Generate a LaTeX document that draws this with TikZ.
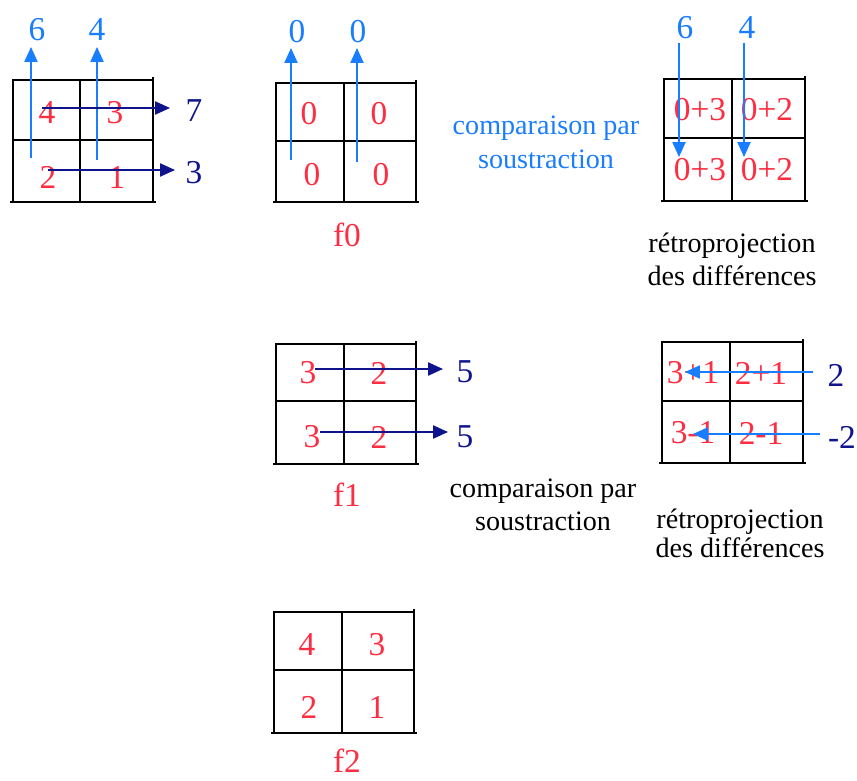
\documentclass[tikz,border=0pt]{standalone}
\usepackage{fontspec}
\setmainfont{Liberation Serif}
\usetikzlibrary{arrows.meta}
\definecolor{numred}{RGB}{255,45,65}
\definecolor{lblue}{RGB}{25,125,255}
\definecolor{dblue}{RGB}{15,20,140}
\tikzset{
  gridline/.style={line width=1.1pt,black},
  num/.style={text=numred,font=\fontsize{19}{21}\selectfont,inner sep=0pt},
  lnum/.style={text=lblue,font=\fontsize{19}{21}\selectfont,inner sep=0pt},
  dnum/.style={text=dblue,font=\fontsize{19}{21}\selectfont,inner sep=0pt},
  btxt/.style={text=lblue,font=\fontsize{16}{18}\selectfont,inner sep=0pt,anchor=base},
  ktxt/.style={text=black,font=\fontsize{16}{18}\selectfont,inner sep=0pt,anchor=base},
  larrow/.style={lblue,line width=0.9pt,-{Triangle[length=8.5pt,width=7.5pt]}},
  darrow/.style={dblue,line width=0.9pt,-{Triangle[length=8.5pt,width=7.5pt]}},
}
\newcommand{\mygrid}[6]{% left top mid-x right bottom mid-y
  \draw[gridline] (#1,#2) rectangle (#4,#5);
  \draw[gridline] (#3,#2) -- (#3,#5);
  \draw[gridline] (#1,#6) -- (#4,#6);
  \draw[gridline] (#4,#2-3) -- (#4,#5);
  \draw[gridline] (#1-3,#5) -- (#4+3,#5);
}
\begin{document}
\begin{tikzpicture}[x=0.02cm,y=-0.02cm]
\clip (0,0) rectangle (857,780);
\useasboundingbox (0,0) rectangle (857,780);

% ---------- grid A (top left) ----------
\mygrid{13}{80}{80}{153}{202}{140}
\node[num] (a11) at (47,113) {4};
\node[num] (a12) at (115,113) {3};
\node[num] (a21) at (48,177) {2};
\node[num] (a22) at (117,177) {1};
\coordinate (au1s) at (31,158);
\coordinate (au2s) at (97,160);
\node[lnum] (a6) at (37,30) {6};
\node[lnum] (a4) at (97,30) {4};
\draw[larrow] (au1s) -- (31,47) coordinate (au1e);
\draw[larrow] (au2s) -- (97,47) coordinate (au2e);
\coordinate (ah1s) at (42,108);
\coordinate (ah1e) at (170,108);
\coordinate (ah2s) at (48,170);
\coordinate (ah2e) at (175,170);
\draw[darrow] (ah1s) -- (ah1e);
\draw[darrow] (ah2s) -- (ah2e);
\node[dnum] (a7) at (194,111) {7};
\node[dnum] (a3) at (194,173) {3};

% ---------- grid f0 ----------
\mygrid{276}{83}{344}{416}{202}{141}
\node[num] (b11) at (309,114) {0};
\node[num] (b12) at (379,114) {0};
\node[num] (b21) at (312,175) {0};
\node[num] (b22) at (381,175) {0};
\coordinate (bu1s) at (291,160);
\coordinate (bu2s) at (357,162);
\draw[larrow] (bu1s) -- (291,48) coordinate (bu1e);
\draw[larrow] (bu2s) -- (357,48) coordinate (bu2e);
\node[lnum] (b0a) at (297,32) {0};
\node[lnum] (b0b) at (358,32) {0};
\node[num] (f0) at (347,235) {f0};

\node[btxt] (cmp1) at (546,135) {comparaison par};
\node[btxt] (cmp2) at (546,169) {soustraction};

% ---------- grid top right ----------
\mygrid{664}{79}{732}{805}{201}{138}
\node[num] (c11) at (700,110) {0+3};
\node[num] (c12) at (767,110) {0+2};
\node[num] (c21) at (700,170) {0+3};
\node[num] (c22) at (767,170) {0+2};
\node[lnum] (c6) at (685,28) {6};
\node[lnum] (c4) at (747,28) {4};
\coordinate (cd1s) at (679,43);
\coordinate (cd2s) at (744,43);
\draw[larrow] (cd1s) -- (679,157) coordinate (cd1e);
\draw[larrow] (cd2s) -- (744,157) coordinate (cd2e);
\node[ktxt] (retro1) at (732,253) {rétroprojection};
\node[ktxt] (diff1) at (732,285) {des différences};

% ---------- grid f1 ----------
\mygrid{276}{344}{344}{416}{464}{401}
\node[num] (d11) at (308,373) {3};
\node[num] (d12) at (379,373) {2};
\node[num] (d21) at (312,437) {3};
\node[num] (d22) at (379,437) {2};
\coordinate (dh1s) at (315,369);
\coordinate (dh1e) at (443,369);
\coordinate (dh2s) at (320,432);
\coordinate (dh2e) at (448,432);
\draw[darrow] (dh1s) -- (dh1e);
\draw[darrow] (dh2s) -- (dh2e);
\node[dnum] (d5a) at (465,372) {5};
\node[dnum] (d5b) at (465,437) {5};
\node[num] (f1) at (347,495) {f1};
\node[ktxt] (cmp3) at (543,497) {comparaison par};
\node[ktxt] (cmp4) at (543,530) {soustraction};

% ---------- grid middle right ----------
\mygrid{662}{342}{730}{803}{463}{401}
\node[num] (e11) at (693,373) {3+1};
\node[num] (e12) at (761,373) {2+1};
\node[num] (e21) at (693,433) {3-1};
\node[num] (e22) at (761,433) {2-1};
\coordinate (eh1s) at (813,372);
\coordinate (eh1e) at (685,372);
\coordinate (eh2s) at (820,434);
\coordinate (eh2e) at (693,434);
\draw[larrow] (eh1s) -- (eh1e);
\draw[larrow] (eh2s) -- (eh2e);
\node[dnum] (e2) at (836,375) {2};
\node[dnum] (em2) at (842,437) {-2};
\node[ktxt] (retro2) at (740,528) {rétroprojection};
\node[ktxt] (diff2) at (740,557) {des différences};

% ---------- grid f2 ----------
\mygrid{274}{612}{342}{414}{733}{670}
\node[num] (g11) at (307,645) {4};
\node[num] (g12) at (377,645) {3};
\node[num] (g21) at (309,707) {2};
\node[num] (g22) at (377,707) {1};
\node[num] (f2) at (347,761) {f2};
\end{tikzpicture}
\end{document}
